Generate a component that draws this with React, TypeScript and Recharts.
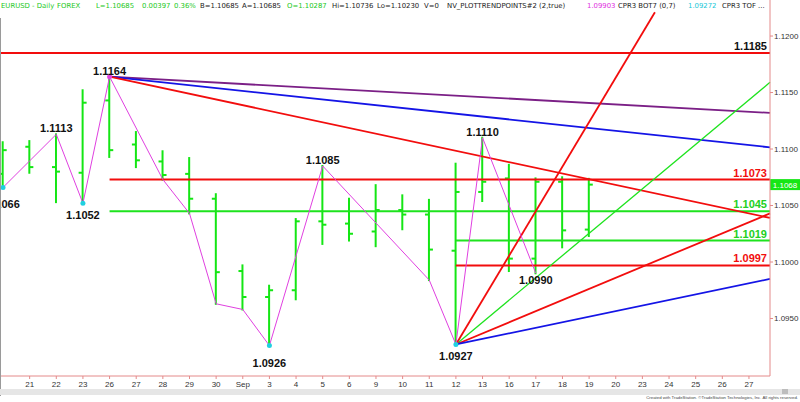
import { ComposedChart, Bar, Line, XAxis, YAxis, ReferenceLine, LabelList } from "recharts";

const FONT = "'Liberation Sans', Arial, sans-serif";
const STATUS_FONT = "'DejaVu Sans', Verdana, sans-serif";

// one slot per trading day: slot 0 = Aug 20 ... slot 28 = Sep 27
const dayLabels = [
  "20", "21", "22", "23", "26", "27", "28", "29", "30", "Sep", "3", "4", "5", "6",
  "9", "10", "11", "12", "13", "16", "17", "18", "19", "20", "23", "24", "25", "26", "27",
];

const opens = [
  1.1078, 1.1102, 1.1084, 1.1079, 1.1143, 1.1104, 1.1089, 1.1078, 1.1056, 1.0992, 1.0969, 1.0975,
  1.1036, 1.1034, 1.1027, 1.1046, 1.1042, 1.101, 1.1062, 1.1074, 1.1003, 1.1071, 1.10287,
];
const highs = [
  1.1106, 1.1107, 1.1113, 1.1152, 1.1164, 1.1115, 1.1098, 1.1092, 1.106, 1.0997, 1.0979, 1.1038,
  1.1085, 1.1056, 1.1068, 1.1059, 1.1055, 1.1087, 1.111, 1.1086, 1.1074, 1.1075, 1.10736,
];
const lows = [
  1.1066, 1.1079, 1.1053, 1.1052, 1.1093, 1.1084, 1.1073, 1.1043, 1.0963, 1.0958, 1.0926, 1.0967,
  1.1016, 1.1019, 1.1014, 1.1029, 1.0984, 1.0927, 1.1054, 1.0992, 1.099, 1.1013, 1.1023,
];
const closes = [
  1.1099, 1.1084, 1.108, 1.1141, 1.1099, 1.109, 1.1077, 1.1056, 1.0991, 1.0969, 1.0975, 1.1036,
  1.1033, 1.1025, 1.1046, 1.1042, 1.1011, 1.1062, 1.1071, 1.1003, 1.1071, 1.1028, 1.10685,
];
const lastPrice = 1.10685;

// swing line (NV_PLOTTRENDPOINTS)
const pivotDay = [0, 2, 3, 4, 6, 7, 8, 9, 10, 12, 16, 17, 18, 20];
const pivotPrice = [
  1.1066, 1.1113, 1.1052, 1.1164, 1.1073, 1.1043, 1.0963, 1.0958, 1.0926, 1.1085, 1.0984, 1.0927, 1.111, 1.099,
];
const pivotKind = ["L", "H", "L", "H", "", "", "", "", "L", "H", "", "L", "H", "L"];
const pivotMarked = [1, 0, 1, 1, 0, 0, 0, 0, 1, 0, 0, 1, 0, 0];

// horizontal levels
const levelPrices = [1.1185, 1.1073, 1.1045, 1.1019, 1.0997];
const levelStartDay = [-0.113, 4, 4, 17, 17];

// fans from the 1.1164 top and the 1.0927 bottom (prices at the right edge)
const topDay = 4;
const topPrice = 1.1164;
const topFanEnds = [1.1132, 1.11015, 1.1039];
const bottomDay = 17;
const bottomPrice = 1.0927;
const bottomFanEnds = [1.1159, 1.1043, 1.0985];
const steepDay = 24.47;
const steepPrice = 1.1221;

const X_MIN = -0.113;
const X_MAX = 28.79;
const Y_MIN = 1.08991;
const Y_MAX = 1.12319;

const rows = opens.map((o, i) => ({
  i,
  o,
  h: highs[i],
  l: lows[i],
  c: closes[i],
  hl: [lows[i], highs[i]],
}));
const pivots = pivotDay.map((d, k) => ({ i: d, p: pivotPrice[k] }));

const BAR_GREEN = "#14e614";
const RED = "#f20d0d";
const GREEN = "#1ee31e";
const BLUE = "#1414e6";
const PURPLE = "#7b1f86";
const MAGENTA = "#e040e0";
const CYAN = "#20d0e0";

const levelStroke = [RED, RED, GREEN, GREEN, RED];
const levelText = ["#111", RED, "#22d022", "#22d022", RED];
const topFanStroke = [PURPLE, BLUE, RED];
const bottomFanStroke = [GREEN, RED, BLUE];
const bottomFanWidth = [1.3, 1.8, 1.8];

const lowDrop: Record<number, number> = { 0: 21, 2: 16, 8: 21, 11: 16, 13: 11 };

function OhlcShape(props: any) {
  const { x, y, width, height, payload } = props;
  if (!payload || !payload.hl) return <g />;
  const top = Math.min(y, y + height);
  const h = Math.abs(height);
  const cx = x + width / 2;
  const py = (p: number) => top + ((payload.h - p) / (payload.h - payload.l)) * h;
  return (
    <g stroke={BAR_GREEN} strokeWidth={2}>
      <line x1={cx} x2={cx} y1={top - 1} y2={top + h + 1} />
      <line x1={cx - 4} x2={cx} y1={py(payload.o)} y2={py(payload.o)} />
      <line x1={cx} x2={cx + 4} y1={py(payload.c)} y2={py(payload.c)} />
    </g>
  );
}

function PivotDot(props: any) {
  const { cx, cy, index } = props;
  if (!pivotMarked[index]) return <g key={`d${index}`} />;
  const fill = pivotKind[index] === "H" ? MAGENTA : CYAN;
  return <circle key={`d${index}`} cx={cx} cy={cy} r={2.5} fill={fill} stroke="none" />;
}

function pivotLabel(props: any) {
  const { x, y, index, value } = props;
  const kind = pivotKind[index];
  if (!kind) return null;
  const by = kind === "H" ? y - 2 : y + (lowDrop[index] ?? 17);
  return (
    <text x={x} y={by} textAnchor="middle" fill="#111" fontSize={11} fontWeight="bold" fontFamily={FONT}>
      {Number(value).toFixed(4)}
    </text>
  );
}

const levelLabel = (text: string, color: string) => (props: any) => {
  const vb = props.viewBox;
  return (
    <text
      x={vb.x + vb.width - 3}
      y={vb.y - 3}
      textAnchor="end"
      fill={color}
      fontSize={11}
      fontWeight="bold"
      fontFamily={FONT}
    >
      {text}
    </text>
  );
};

function LastPriceTag(props: any) {
  const vb = props.viewBox;
  const x = vb.x + vb.width;
  return (
    <g>
      <rect x={x} y={vb.y - 5.5} width={30} height={11} fill="#16e616" />
      <text x={x + 15} y={vb.y + 3} textAnchor="middle" fill="#fff" fontSize={8} fontFamily={FONT}>
        {lastPrice.toFixed(4)}
      </text>
    </g>
  );
}

const header: [string, number, string][] = [
  ["EURUSD - Daily", 1, "#22c822"],
  ["FOREX", 57, "#22c822"],
  ["L=1.10685", 96, "#22c822"],
  ["0.00397", 142, "#22c822"],
  ["0.36%", 174, "#22c822"],
  ["B=1.10685", 200, "#222"],
  ["A=1.10685", 242, "#222"],
  ["O=1.10287", 287, "#22c822"],
  ["Hi=1.10736", 332, "#222"],
  ["Lo=1.10230", 377, "#222"],
  ["V=0", 424, "#222"],
  ["NV_PLOTTRENDPOINTS#2 (2,true)", 447, "#222"],
  ["1.09903", 587, "#e030e0"],
  ["CPR3 BOT7 (0,7)", 618, "#222"],
  ["1.09272", 688, "#20c8d8"],
  ["CPR3 TOF ...", 722, "#222"],
];

const dayTicks = dayLabels.map((_, i) => i).slice(1);

export default function App() {
  return (
    <div
      style={{
        position: "absolute",
        left: 0,
        top: 0,
        width: 800,
        height: 402,
        background: "#fff",
        overflow: "hidden",
        fontFamily: FONT,
      }}
    >
      <ComposedChart
        width={800}
        height={402}
        data={rows}
        margin={{ top: 0, right: 0, bottom: 14, left: 0 }}
      >
        <XAxis
          dataKey="i"
          type="number"
          domain={[X_MIN, X_MAX]}
          allowDataOverflow
          ticks={dayTicks}
          interval={0}
          tickFormatter={(v: number) => dayLabels[v] ?? ""}
          height={12}
          tickSize={3}
          tickMargin={2}
          stroke="#e48a8a"
          tick={{ fontSize: 8, fill: "#333", fontFamily: FONT }}
        />
        <YAxis
          orientation="right"
          type="number"
          domain={[Y_MIN, Y_MAX]}
          allowDataOverflow
          ticks={[1.095, 1.1, 1.105, 1.11, 1.115, 1.12]}
          tickFormatter={(v: number) => v.toFixed(4)}
          width={30}
          tickSize={3}
          tickMargin={1}
          stroke="#e48a8a"
          tick={{ fontSize: 8, fill: "#333", fontFamily: FONT, textAnchor: "start" }}
        />

        {levelPrices.map((p, k) => (
          <ReferenceLine
            key={`lv${k}`}
            segment={[
              { x: levelStartDay[k], y: p },
              { x: X_MAX, y: p },
            ]}
            stroke={levelStroke[k]}
            strokeWidth={2}
            ifOverflow="visible"
            label={levelLabel(p.toFixed(4), levelText[k])}
          />
        ))}

        {topFanEnds.map((p, k) => (
          <ReferenceLine
            key={`tf${k}`}
            segment={[
              { x: topDay, y: topPrice },
              { x: X_MAX, y: p },
            ]}
            stroke={topFanStroke[k]}
            strokeWidth={1.8}
            ifOverflow="visible"
          />
        ))}

        {bottomFanEnds.map((p, k) => (
          <ReferenceLine
            key={`bf${k}`}
            segment={[
              { x: bottomDay, y: bottomPrice },
              { x: X_MAX, y: p },
            ]}
            stroke={bottomFanStroke[k]}
            strokeWidth={bottomFanWidth[k]}
            ifOverflow="visible"
          />
        ))}
        <ReferenceLine
          segment={[
            { x: bottomDay, y: bottomPrice },
            { x: steepDay, y: steepPrice },
          ]}
          stroke={RED}
          strokeWidth={1.8}
          ifOverflow="visible"
        />

        <Bar dataKey="hl" barSize={8} shape={OhlcShape} isAnimationActive={false} />

        <Line
          data={pivots}
          dataKey="p"
          stroke={MAGENTA}
          strokeWidth={1}
          dot={PivotDot}
          activeDot={false}
          isAnimationActive={false}
        >
          <LabelList dataKey="p" content={pivotLabel} />
        </Line>

        <ReferenceLine y={lastPrice} stroke="none" ifOverflow="visible" label={LastPriceTag} />
      </ComposedChart>

      {/* status line */}
      <div style={{ position: "absolute", left: 0, top: 0, width: 768, height: 14, overflow: "hidden" }}>
        {header.map(([t, x, c]) => (
          <span
            key={t + x}
            style={{
              position: "absolute",
              left: x,
              top: 1,
              fontFamily: STATUS_FONT,
              fontSize: 6.9,
              lineHeight: "11px",
              color: c,
              whiteSpace: "nowrap",
            }}
          >
            {t}
          </span>
        ))}
      </div>

      {/* left frame edge */}
      <div style={{ position: "absolute", left: 0, top: 18, width: 1, height: 378, background: "#9a9a9a" }} />

      {/* scroll strip and footer */}
      <div style={{ position: "absolute", left: 0, top: 389, width: 800, height: 6, background: "#e6e6e6" }} />
      <div style={{ position: "absolute", left: 782, top: 389, width: 6, height: 5, background: "#bdbdbd" }} />
      <div
        style={{
          position: "absolute",
          right: 2,
          top: 395,
          fontSize: 4.3,
          lineHeight: "6px",
          color: "#444",
          whiteSpace: "nowrap",
        }}
      >
        Created with TradeStation. ©TradeStation Technologies, Inc. All rights reserved.
      </div>
    </div>
  );
}
